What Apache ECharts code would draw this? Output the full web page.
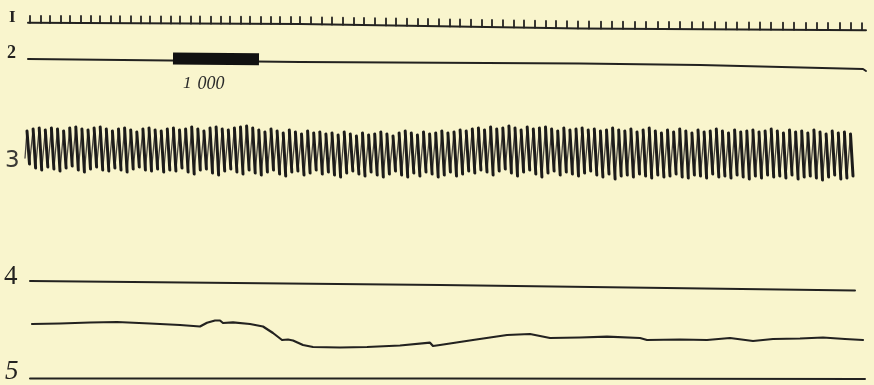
<!DOCTYPE html>
<html>
<head>
<meta charset="utf-8">
<script src="https://cdn.jsdelivr.net/npm/echarts@6/dist/echarts.min.js"></script>
<style>
html,body{margin:0;padding:0;background:#f9f5cd;}
#chart{width:874px;height:385px;}
</style>
</head>
<body>
<div id="chart"></div>
<script>
// ---- Trace 1: time marker (tick positions and baseline level) ----
const tickX = [30,41,50,61,70,81,91,100,111,120,131,141,150,161,171,180,191,200,211,221,230,241,250,261,271,280,291,300,
  311,322,332,343,354,364,375,386,396,407,418,428,439,450,460,471,482,492,503,514,524,535,546,556,567,578,
  589,601,612,623,635,646,658,669,680,692,703,715,726,737,749,760,771,783,794,806,817,828,840,851,862];
const tickY = [22.8,22.8,22.9,22.9,23,23,23,23.1,23.1,23.2,23.2,23.3,23.3,23.3,23.4,23.4,23.5,23.5,23.6,23.6,23.6,23.7,23.7,23.8,23.8,23.9,23.9,24,
  24.2,24.4,24.5,24.7,24.9,25,25.2,25.4,25.5,25.7,25.9,26,26.2,26.4,26.5,26.7,26.9,27,27.2,27.4,27.5,27.7,27.9,28,28.2,28.4,
  28.5,28.6,28.6,28.7,28.8,28.8,28.9,29,29,29.1,29.2,29.2,29.3,29.4,29.4,29.5,29.6,29.6,29.7,29.8,29.8,29.9,30,30,30.1];
const tickHeight = 7;
const trace1Base = [[28,22.8],[300,24],[580,28.4],[866,30.2]];

// ---- Trace 2: signal line with stimulus bar ----
const trace2 = [[28,59],[170,60.5],[300,62],[580,63.5],[700,65],[863,69],[866,71]];
const trace2Bar = [[173,58.6],[259,59.2]];

// ---- Trace 3: oscillation (peak and trough levels per cycle) ----
const waveX0 = 27, wavePeriod = 6.1, waveDown = 2.5;
const waveStart = [25,158];
const waveTop = [131,129,128,130,128,129,131,128,127,129,130,128,127,129,131,129,128,130,132,129,128,130,131,129,
  128,130,129,127,129,131,128,127,129,130,128,127,126,128,130,132,129,131,133,130,132,134,131,133,132,
  134,133,135,132,134,136,133,135,134,132,134,136,133,131,133,135,132,134,133,131,133,132,130,131,
  129,128,130,127,129,128,126,128,130,127,129,128,127,129,131,128,130,129,128,130,129,131,130,128,130,
  131,129,132,130,128,131,133,130,132,129,131,133,130,132,131,129,131,133,130,132,131,130,132,131,129,
  131,133,130,132,131,133,130,132,134,131,133,132,134];
const waveBottom = [164,168,170,167,169,171,168,166,170,172,169,167,170,171,168,170,172,169,167,170,171,169,172,170,
  171,168,172,174,170,169,173,175,171,169,172,174,170,173,175,172,170,174,176,172,171,175,173,170,174,
  172,175,177,173,171,174,176,172,175,177,174,171,175,177,173,176,172,174,177,175,172,176,174,171,
  173,170,172,175,171,169,173,176,172,170,174,177,173,171,175,172,174,176,173,171,175,177,174,179,176,
  175,177,174,176,178,175,177,176,174,177,178,175,176,178,174,177,176,178,175,177,179,176,178,175,177,
  176,178,175,179,177,176,178,180,177,175,179,178,176];

// ---- Trace 4 & 5: reference lines and slow curve ----
const trace4 = [[30,281],[440,285],[855,290.5]];
const curve = [[32,324],[60,323.5],[90,322.5],[117,322],[150,323.5],[180,325],[200,326.5],[207,322.7],[215,320.5],[220,320.5],[223,323],[233,322.3],[250,324],[263,326.5],[273,333],[282,340],[288,339.5],[293,340.5],[303,345],[313,347],[340,347.5],[367,347],[400,345.5],[430,342.7],[433,346],[440,345],[473,340],[507,335],[530,334],[550,338],[580,337.5],[607,336.7],[640,338],[647,340],[680,339.5],[707,340],[730,338],[753,341],[773,339],[800,338.5],[823,337.5],[845,339],[863,340]];
const trace5 = [[30,378.5],[440,378.5],[865,379]];

const rowLabels = ['I','2','3','4','5'];
const barLabel = '1000';

// ---- build series data ----
const GAP = ['-','-'];
const tickData = [];
for (let i = 0; i < tickX.length; i++) {
  tickData.push([tickX[i], tickY[i]], [tickX[i], tickY[i] - tickHeight], GAP);
}
const n = Math.min(waveTop.length, waveBottom.length);
const downData = [], upData = [];
const wx = i => waveX0 + i * wavePeriod;
upData.push(waveStart, [wx(0), waveTop[0]], GAP);
for (let i = 0; i < n; i++) {
  downData.push([wx(i), waveTop[i]], [wx(i) + waveDown, waveBottom[i]], GAP);
  if (i + 1 < n) upData.push([wx(i) + waveDown, waveBottom[i]], [wx(i + 1), waveTop[i + 1]], GAP);
}

const ink = '#232220';
function lineSeries(data, width, color, cap) {
  return {type:'line', data, symbol:'none', showSymbol:false, silent:true,
    lineStyle:{width, color: color || ink, cap: cap || 'round', join:'round'}, connectNulls:false, animation:false};
}

const chart = echarts.init(document.getElementById('chart'));
chart.setOption({
  backgroundColor:'#f9f5cd',
  animation:false,
  grid:{left:0,right:0,top:0,bottom:0},
  xAxis:{type:'value',min:0,max:874,show:false},
  yAxis:{type:'value',min:0,max:385,inverse:true,show:false},
  series:[
    lineSeries(trace1Base, 2),
    lineSeries(tickData, 1.8),
    lineSeries(trace2, 2),
    lineSeries(trace2Bar, 12, '#111', 'butt'),
    lineSeries(upData, 1.3, '#4a4640'),
    lineSeries(downData, 3, '#1c1b1a'),
    lineSeries(trace4, 2),
    lineSeries(curve, 2.2),
    lineSeries(trace5, 2)
  ],
  graphic:[
    {type:'text', left:9, top:9, style:{text:rowLabels[0], font:'bold 17px "Liberation Serif"', fill:ink}},
    {type:'text', left:7, top:44, style:{text:rowLabels[1], font:'bold 18px "Liberation Serif"', fill:ink}},
    {type:'text', left:5, top:150, style:{text:rowLabels[2], font:'23px "DejaVu Sans"', fill:'#3a3935'}},
    {type:'text', left:4, top:263, style:{text:rowLabels[3], font:'27px "Liberation Serif"', fill:ink}},
    {type:'text', left:5, top:358, style:{text:rowLabels[4], font:'italic 27px "Liberation Serif"', fill:ink}},
    {type:'text', left:183, top:75, style:{text:'{a|' + barLabel.slice(0,1) + '}{b|' + barLabel.slice(1) + '}',
      rich:{a:{font:'italic 17px "Liberation Serif"', fill:'#2a2a2a', padding:[0,6,0,0]},
            b:{font:'italic 18px "Liberation Serif"', fill:'#2a2a2a'}}}}
  ]
});
</script>
</body>
</html>
